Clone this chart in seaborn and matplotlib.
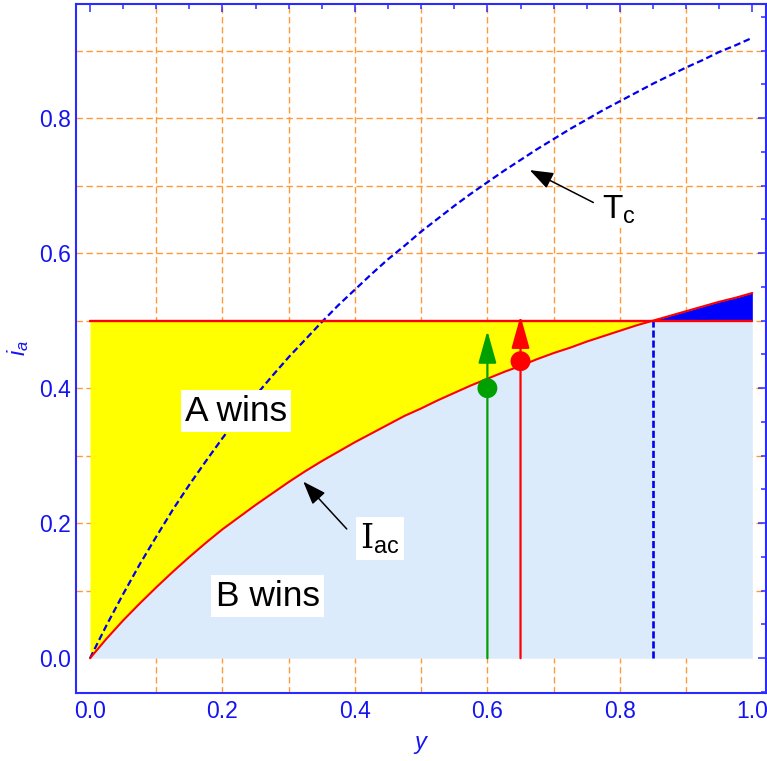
import numpy as np
import pandas as pd
import matplotlib
matplotlib.use("Agg")
import matplotlib.pyplot as plt
import seaborn as sns
from matplotlib.ticker import MultipleLocator, FormatStrFormatter

# ---------------- data ----------------
y_vals = [0.0, 0.025, 0.05, 0.075, 0.1, 0.125, 0.15, 0.175, 0.2, 0.225, 0.25,
          0.275, 0.3, 0.325, 0.35, 0.375, 0.4, 0.425, 0.45, 0.475, 0.5,
          0.525, 0.55, 0.575, 0.6, 0.625, 0.65, 0.675, 0.7, 0.725, 0.75,
          0.775, 0.8, 0.825, 0.85, 0.875, 0.9, 0.925, 0.95, 0.975, 1.0]
tc_vals = [0.0, 0.049, 0.095, 0.139, 0.180, 0.220, 0.257, 0.292, 0.326, 0.358, 0.389,
           0.418, 0.446, 0.472, 0.498, 0.523, 0.546, 0.569, 0.591, 0.611, 0.632,
           0.651, 0.670, 0.688, 0.705, 0.722, 0.738, 0.754, 0.769, 0.784, 0.798,
           0.812, 0.825, 0.838, 0.851, 0.863, 0.875, 0.886, 0.898, 0.908, 0.919]
iac_vals = [0.0, 0.029, 0.056, 0.081, 0.105, 0.128, 0.150, 0.171, 0.191, 0.209, 0.227,
            0.244, 0.261, 0.277, 0.292, 0.306, 0.320, 0.333, 0.346, 0.359, 0.370,
            0.382, 0.393, 0.404, 0.414, 0.424, 0.433, 0.443, 0.452, 0.460, 0.469,
            0.477, 0.485, 0.493, 0.500, 0.507, 0.514, 0.521, 0.528, 0.534, 0.541]
threshold = 0.5          # horizontal red line i_a = 0.5
switch_y = 0.85          # where I_ac crosses 0.5
arrow_y = [0.6, 0.65]    # green, red vertical arrows
arrow_tip = [0.485, 0.507]
dot_val = [0.40, 0.44]
region_labels = ["A wins", "B wins"]

# ---------------- style ----------------
sns.set_theme(style="white")
plt.rcParams["font.family"] = ["Liberation Sans", "DejaVu Sans"]
plt.rcParams["mathtext.fontset"] = "custom"
plt.rcParams["mathtext.rm"] = "Liberation Sans"
plt.rcParams["mathtext.it"] = "Liberation Sans:italic"
plt.rcParams["mathtext.sf"] = "DejaVu Serif"

BLUE_FRAME = "#2b2bff"
BLUE_TXT = "#1414f0"
ORANGE = "#ff9933"
LIGHTBLUE = "#dcebfb"
YELLOW = "#ffff00"
DARKBLUE = "#0000ff"
RED = "#ff0000"
GREEN = "#00a000"

df = pd.DataFrame({"y": y_vals, "Tc": tc_vals, "Iac": iac_vals})
x = df["y"].to_numpy()
iac = df["Iac"].to_numpy()

fig = plt.figure(figsize=(7.67, 7.61), dpi=100)
ax = fig.add_axes([0.0987, 0.0898, 0.8996, 0.9049])
ax.set_facecolor("white")

# grid (dashed orange at every 0.1, under everything)
for g in np.arange(0.1, 0.95, 0.1):
    ax.axvline(g, color=ORANGE, lw=1.0, ls=(0, (4.6, 2.6)), zorder=0.5)
    ax.axhline(g, color=ORANGE, lw=1.0, ls=(0, (4.6, 2.6)), zorder=0.5)

# regions
ax.fill_between(x, 0, np.minimum(iac, threshold), color=LIGHTBLUE, lw=0, zorder=1)
ax.fill_between(x, iac, threshold, where=x <= switch_y, color=YELLOW, lw=0, zorder=1)
ax.fill_between(x, threshold, iac, where=x >= switch_y, color=DARKBLUE, lw=0, zorder=1)

# curves
sns.lineplot(data=df, x="y", y="Tc", ax=ax, color="#0000ee", lw=1.6,
             linestyle=(0, (3.0, 1.6)), zorder=3)
sns.lineplot(data=df, x="y", y="Iac", ax=ax, color=RED, lw=1.5, zorder=4)
ax.plot([x[0], x[-1]], [threshold, threshold], color=RED, lw=1.7, zorder=4)
ax.plot([switch_y, switch_y], [0, threshold], color="#0000ee", lw=1.9,
        ls=(0, (2.7, 1.1)), zorder=3)

# vertical arrows with dots
for xa, tip, dv, col in zip(arrow_y, arrow_tip, dot_val, [GREEN, RED]):
    ax.annotate("", xy=(xa, tip), xytext=(xa, 0.0),
                arrowprops=dict(arrowstyle="-|>,head_length=1.0,head_width=0.28",
                                mutation_scale=20, color=col, lw=1.6,
                                shrinkA=0, shrinkB=0), zorder=5)
pts = pd.DataFrame({"y": arrow_y, "v": dot_val, "c": ["g", "r"]})
sns.scatterplot(data=pts, x="y", y="v", hue="c", palette={"g": GREEN, "r": RED},
                s=205, edgecolor="none", legend=False, ax=ax, zorder=6)

# text labels
box = dict(boxstyle="square,pad=0.12", fc="white", ec="none")
ax.text(0.2203, 0.352, region_labels[0], fontsize=25.5, color="black",
        ha="center", va="baseline", bbox=box, zorder=7)
ax.text(0.268, 0.078, region_labels[1], fontsize=25.5, color="black",
        ha="center", va="baseline", bbox=box, zorder=7)
ax.text(0.7735, 0.6517, r"$\mathrm{T}_{\mathrm{c}}$", fontsize=24, color="black",
        ha="left", va="baseline", bbox=dict(boxstyle="square,pad=0.08", fc="white", ec="none"),
        zorder=7)
ax.text(0.4077, 0.163, r"$\mathsf{I}_{\mathrm{ac}}$", fontsize=24, color="black",
        ha="left", va="baseline", bbox=box, zorder=7)

arrow_kw = dict(arrowstyle="-|>,head_length=0.6,head_width=0.22", mutation_scale=24,
                color="black", lw=1.1, shrinkA=0, shrinkB=0)
ax.annotate("", xy=(0.664, 0.723), xytext=(0.760, 0.675), arrowprops=arrow_kw, zorder=7)
ax.annotate("", xy=(0.322, 0.2616), xytext=(0.3876, 0.1915), arrowprops=arrow_kw, zorder=7)

# axes frame, ticks
ax.set_xlim(-0.0216, 1.0202)
ax.set_ylim(-0.051, 0.969)
ax.xaxis.set_major_locator(MultipleLocator(0.2))
ax.yaxis.set_major_locator(MultipleLocator(0.2))
ax.xaxis.set_minor_locator(MultipleLocator(0.05))
ax.yaxis.set_minor_locator(MultipleLocator(0.05))
ax.xaxis.set_major_formatter(FormatStrFormatter("%.1f"))
ax.yaxis.set_major_formatter(FormatStrFormatter("%.1f"))
ax.tick_params(which="both", direction="in", top=True, right=True,
               color=BLUE_FRAME, width=1.1, labelcolor=BLUE_TXT, labelsize=16.5)
ax.tick_params(which="major", length=6)
ax.tick_params(which="minor", length=3.5)
ax.tick_params(axis="x", which="major", pad=5.5)
ax.tick_params(axis="y", which="major", pad=3.5)
for sp in ax.spines.values():
    sp.set_color(BLUE_FRAME)
    sp.set_linewidth(1.5)
    sp.set_zorder(10)

ax.set_xlabel(r"$y$", fontsize=17, color=BLUE_TXT, labelpad=8)
ax.set_ylabel(r"$i_a$", fontsize=17, color=BLUE_TXT, labelpad=6)

fig.savefig("out.png", dpi=100)
